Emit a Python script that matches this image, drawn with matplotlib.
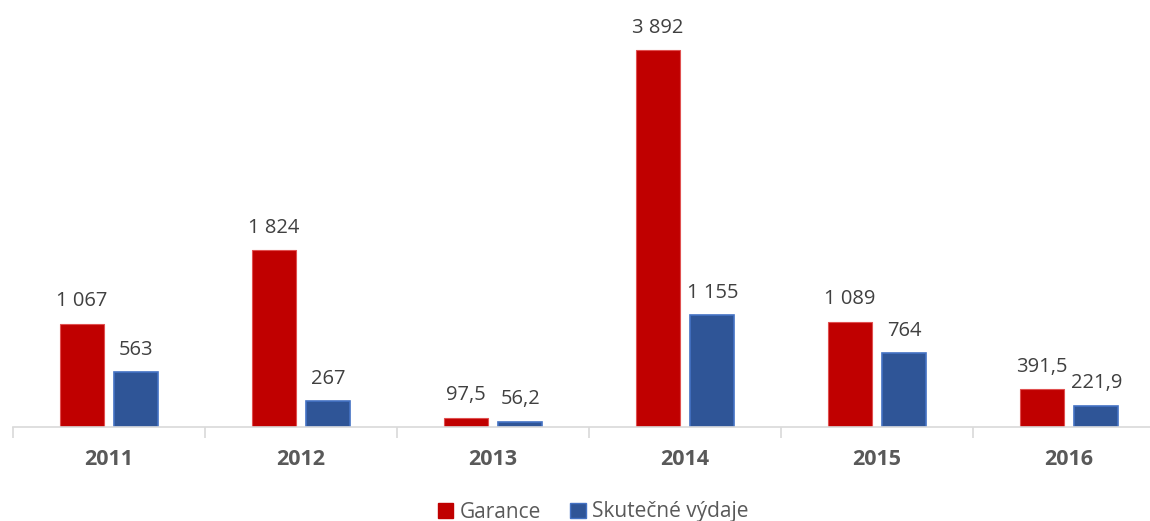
import matplotlib
matplotlib.use("Agg")
from matplotlib import pyplot as plt
from matplotlib.patches import Patch
import numpy as np

years = ["2011", "2012", "2013", "2014", "2015", "2016"]
garance = [1067, 1824, 97.5, 3892, 1089, 391.5]
vydaje = [563, 267, 56.2, 1155, 764, 221.9]


def fmt(v):
    # czech style: space for thousands, comma for decimals
    if float(v).is_integer():
        return "{:,}".format(int(v)).replace(",", " ")
    return ("%.1f" % v).replace(".", ",")


plt.rcParams['font.family'] = ['Open Sans', 'DejaVu Sans']

fig = plt.figure(figsize=(11.5, 5.21), dpi=100)
ax = fig.add_axes([13 / 1150, 94 / 521, 1137 / 1150, 407 / 521])

x = np.arange(len(years))
w = 0.23
off = 0.142

b1 = ax.bar(x - off, garance, w, color='#C00000', edgecolor='#E05050', linewidth=0.8)
b2 = ax.bar(x + off, vydaje, w, color='#2F5597', edgecolor='#4472C4', linewidth=1.2)

for bars, vals in ((b1, garance), (b2, vydaje)):
    for r, v in zip(bars, vals):
        ax.annotate(fmt(v), xy=(r.get_x() + r.get_width() / 2, r.get_height()),
                    xytext=(0, 9), textcoords='offset points',
                    ha='center', va='bottom', fontsize=14.5, color='#404040')

for s in ['top', 'right', 'left']:
    ax.spines[s].set_visible(False)
ax.spines['bottom'].set_color('#D9D9D9')
ax.spines['bottom'].set_linewidth(1.2)
ax.set_yticks([])

ax.set_xticks(x)
ax.set_xticklabels(years, fontsize=15.5, fontweight='bold', color='#595959')
ax.tick_params(axis='x', which='major', length=0, pad=16)
ax.set_xticks(np.arange(-0.5, 5.5, 1), minor=True)
ax.tick_params(axis='x', which='minor', length=8, width=1.2, color='#D9D9D9')

# limits after ticks, set_xticks would widen them
ax.set_xlim(-0.5, -0.5 + 1137 / 192)
ax.set_ylim(0, 4202)

handles = [Patch(facecolor='#C00000', edgecolor='#C00000', label='Garance'),
           Patch(facecolor='#2F5597', edgecolor='#4472C4', label='Skutečné výdaje')]
fig.legend(handles=handles, loc='center', bbox_to_anchor=(593 / 1150, 9 / 521),
           ncol=2, frameon=False, fontsize=15, labelcolor='#595959',
           handlelength=0.75, handleheight=0.75, handletextpad=0.3, columnspacing=1.4)

fig.savefig('out.png', dpi=100)
